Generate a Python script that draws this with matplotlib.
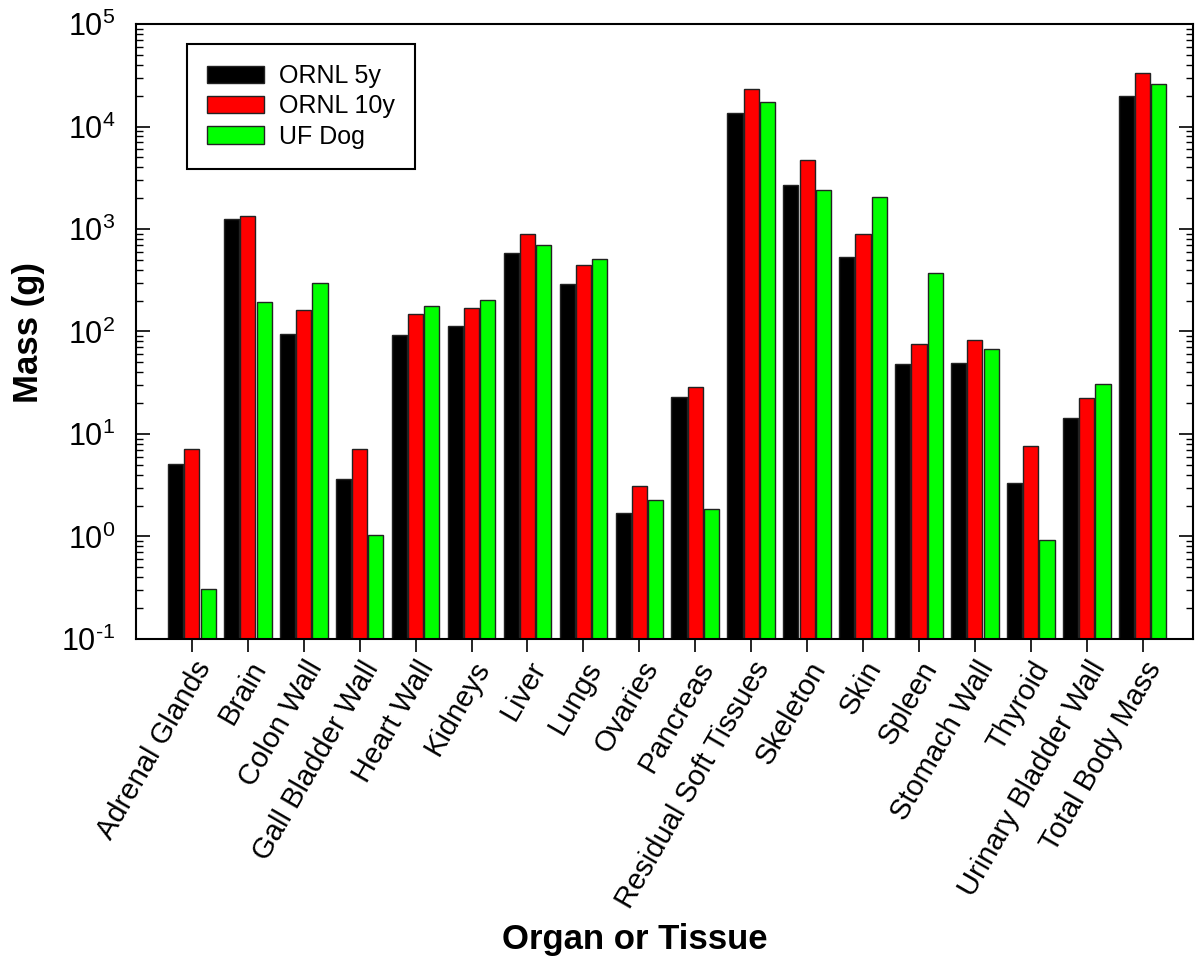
import matplotlib
matplotlib.use("Agg")
import matplotlib.pyplot as plt
import numpy as np
from matplotlib.ticker import LogLocator, NullFormatter

plt.rcParams['font.family'] = ['Liberation Sans', 'DejaVu Sans']
plt.rcParams['mathtext.fontset'] = 'custom'
plt.rcParams['mathtext.rm'] = 'Liberation Sans'

organs = ["Adrenal Glands", "Brain", "Colon Wall", "Gall Bladder Wall", "Heart Wall",
          "Kidneys", "Liver", "Lungs", "Ovaries", "Pancreas", "Residual Soft Tissues",
          "Skeleton", "Skin", "Spleen", "Stomach Wall", "Thyroid",
          "Urinary Bladder Wall", "Total Body Mass"]
ornl_5y = [5.1, 1250, 95, 3.6, 92, 113, 583, 292, 1.71, 23, 13400, 2690, 533, 48, 49, 3.35, 14.2, 20000]
ornl_10y = [7.1, 1350, 162, 7.1, 147, 171, 887, 446, 3.1, 29, 23000, 4680, 893, 75, 83, 7.7, 22.3, 33000]
uf_dog = [0.305, 193, 295, 1.03, 176, 203, 703, 510, 2.25, 1.85, 17200, 2400, 2040, 372, 68, 0.93, 30.7, 26200]
exponents = [-1, 0, 1, 2, 3, 4, 5]

series = [("ORNL 5y", ornl_5y, "#000000"),
          ("ORNL 10y", ornl_10y, "#ff0000"),
          ("UF Dog", uf_dog, "#00ff00")]

fig = plt.figure(figsize=(11.96, 9.69), dpi=100)
ax = fig.add_axes([0.1137, 0.3406, 0.8838, 0.6346])

x = np.arange(1, len(organs) + 1)
w = 0.27
step = 0.29
for i, (name, vals, col) in enumerate(series):
    ax.bar(x + (i - 1) * step, vals, width=w, color=col, edgecolor="#222222",
           linewidth=1.0, label=name, zorder=2)

ax.set_yscale("log")
ax.set_ylim(0.1, 1e5)
ax.set_xlim(0, 18.9)

ax.yaxis.set_minor_locator(LogLocator(base=10, subs=np.arange(2, 10), numticks=20))
ax.yaxis.set_minor_formatter(NullFormatter())
ax.set_yticks([10.0 ** k for k in exponents])
ax.set_yticklabels([r"$\mathregular{10^{%s}}$" % str(k).replace("-", "\u2010")
                    for k in exponents], fontsize=22)

ax.tick_params(axis="y", which="major", direction="in", length=10, width=1.2,
               right=True, labelright=False, pad=15)
ax.tick_params(axis="y", which="minor", direction="in", length=5, width=1.0, right=True)
ax.tick_params(axis="x", which="major", direction="out", length=9, width=1.2)

ax.set_xticks(x)
ax.set_xticklabels(organs, rotation=60, ha="right", va="top",
                   rotation_mode="anchor", fontsize=21)

for s in ax.spines.values():
    s.set_linewidth(1.5)

ax.set_xlabel("Organ or Tissue", fontsize=25, fontweight="bold")
ax.set_ylabel("Mass (g)", fontsize=25, fontweight="bold")
ax.xaxis.set_label_coords(0.472, -0.462)
ax.yaxis.set_label_coords(-0.086, 0.499)

leg = ax.legend(loc="upper left", bbox_to_anchor=(0.048, 0.9675), borderaxespad=0,
                fontsize=18, handlelength=2.3, handleheight=0.7, labelspacing=0.25,
                fancybox=False, framealpha=1, edgecolor="black",
                borderpad=0.8, handletextpad=0.6)
leg.get_frame().set_linewidth(1.5)

fig.savefig("out.png", dpi=100)
